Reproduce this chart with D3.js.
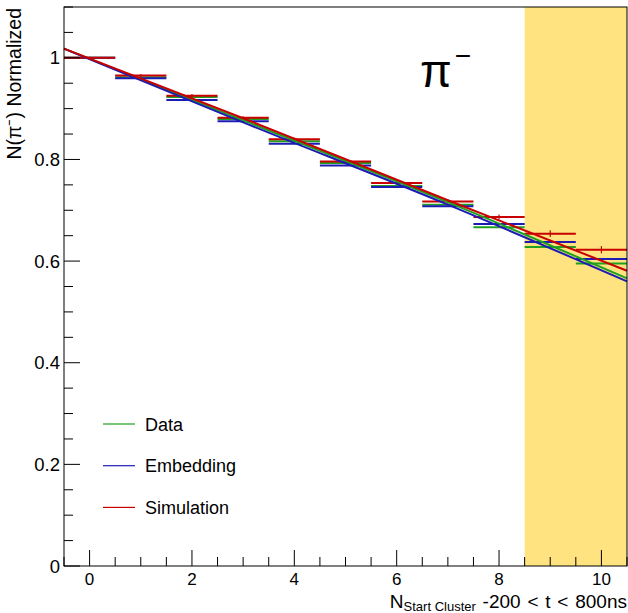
<!DOCTYPE html>
<html lang="en">
<head>
    <meta charset="UTF-8">
    <title>N Start Cluster</title>
    <script src="https://cdn.jsdelivr.net/npm/d3@7"></script>
    <style>
        body { margin: 0; background: #fff; }
        text { font-family: "Liberation Sans", Arial, sans-serif; }
    </style>
</head>
<body>
<script>
    // bins 0..10, each drawn from k-0.5 to k+0.5
    const bins = [0, 1, 2, 3, 4, 5, 6, 7, 8, 9, 10];
    const dataVals = [1.0, 0.962, 0.923, 0.8795, 0.836, 0.793, 0.748, 0.711, 0.6665, 0.6276, 0.5955];
    const embVals  = [1.0, 0.960, 0.917, 0.875, 0.831, 0.788, 0.746, 0.708, 0.673, 0.6375, 0.604];
    const simVals  = [1.0, 0.965, 0.9256, 0.882, 0.840, 0.796, 0.7535, 0.7175, 0.6866, 0.654, 0.6224];
    const simErr   = [0.002, 0.003, 0.003, 0.003, 0.003, 0.004, 0.004, 0.004, 0.005, 0.0065, 0.007];
    // fit lines
    const fitX     = [-0.5, 3, 7, 10.5];
    const dataFit  = [1.018, 0.877, 0.716, 0.566];
    const embFit   = [1.018, 0.873, 0.711, 0.560];
    const simFit   = [1.018, 0.881, 0.7197, 0.581];
    const xTicks = [0, 2, 4, 6, 8, 10];
    const yTicks = [0, 0.2, 0.4, 0.6, 0.8, 1];
    const bandStart = 8.5;

    const width = 628, height = 613;
    const fL = 64, fR = 627, fT = 7, fB = 566;

    const x = d3.scaleLinear().domain([-0.5, 10.5]).range([fL, fR]);
    const y = d3.scaleLinear().domain([0, 1.1]).range([fB, fT]);

    const svg = d3.select("body").append("svg").attr("width", width).attr("height", height);

    // highlighted region
    svg.append("rect")
        .attr("x", x(bandStart)).attr("y", fT)
        .attr("width", x(10.5) - x(bandStart)).attr("height", fB - fT)
        .attr("fill", "#fee380");

    const series = [
        {name: "Data", vals: dataVals, fit: dataFit, color: "#20a020", err: null},
        {name: "Embedding", vals: embVals, fit: embFit, color: "#1c1cb4", err: null},
        {name: "Simulation", vals: simVals, fit: simFit, color: "#c80000", err: simErr}
    ];

    const line = d3.line().x(d => x(d[0])).y(d => y(d[1])).curve(d3.curveMonotoneX);

    series.forEach(s => {
        const g = svg.append("g");
        g.selectAll("line.bin").data(bins).enter().append("line")
            .attr("x1", d => x(d - 0.5)).attr("x2", d => x(d + 0.5))
            .attr("y1", (d, i) => y(s.vals[i])).attr("y2", (d, i) => y(s.vals[i]))
            .attr("stroke", s.color).attr("stroke-width", 2);
        if (s.err) {
            g.selectAll("line.err").data(bins).enter().append("line")
                .attr("x1", d => x(d)).attr("x2", d => x(d))
                .attr("y1", (d, i) => y(s.vals[i] - s.err[i])).attr("y2", (d, i) => y(s.vals[i] + s.err[i]))
                .attr("stroke", s.color).attr("stroke-width", 1.2);
        }
    });
    series.forEach(s => {
        svg.append("path")
            .attr("d", line(fitX.map((v, i) => [v, s.fit[i]])))
            .attr("fill", "none").attr("stroke", s.color).attr("stroke-width", 2);
    });

    // frame
    svg.append("rect").attr("x", fL).attr("y", fT)
        .attr("width", fR - fL).attr("height", fB - fT)
        .attr("fill", "none").attr("stroke", "#000").attr("stroke-width", 1);

    // axes
    const xMinor = d3.range(-0.5, 10.51, 0.5);
    svg.append("g").selectAll("line").data(xMinor).enter().append("line")
        .attr("x1", d => x(d)).attr("x2", d => x(d))
        .attr("y1", fB).attr("y2", d => fB - (Math.abs(d % 2) < 1e-9 ? 16 : 9))
        .attr("stroke", "#000");
    svg.append("g").selectAll("text").data(xTicks).enter().append("text")
        .attr("x", d => x(d)).attr("y", 584.5)
        .attr("text-anchor", "middle").attr("font-size", 17).text(d => d);

    const yMinor = d3.range(0, 1.101, 0.05);
    svg.append("g").selectAll("line").data(yMinor).enter().append("line")
        .attr("x1", fL).attr("x2", d => fL + (Math.abs(Math.round(d * 100) % 20) === 0 ? 16 : 9))
        .attr("y1", d => y(d)).attr("y2", d => y(d))
        .attr("stroke", "#000");
    svg.append("g").selectAll("text").data(yTicks).enter().append("text")
        .attr("x", 60).attr("y", d => y(d) + 6.5)
        .attr("text-anchor", "end").attr("font-size", 18.5).text(d => d);

    // axis titles
    const xt = svg.append("text").attr("x", 627).attr("y", 607.5)
        .attr("text-anchor", "end").attr("font-size", 19);
    xt.append("tspan").text("N");
    xt.append("tspan").attr("dy", 3).attr("font-size", 13).text("Start Cluster");
    xt.append("tspan").attr("dy", -3).attr("word-spacing", 1.5).text(" -200 < t < 800ns");

    svg.append("text")
        .attr("transform", "translate(21,8) rotate(-90)")
        .attr("text-anchor", "end").attr("font-size", 19.5)
        .text("N(\u03C0\u207B) Normalized");

    // particle label
    const pl = svg.append("text").attr("x", 420).attr("y", 87)
        .attr("font-family", "Open Sans").attr("font-size", 46);
    pl.append("tspan").text("\u03C0");
    pl.append("tspan").attr("dx", 3).attr("dy", -22).attr("font-size", 28).text("\u2212");

    // legend
    const leg = svg.append("g").selectAll("g").data(series).enter().append("g")
        .attr("transform", (d, i) => `translate(103, ${424 + i * 41.7})`);
    leg.append("line").attr("x1", 0).attr("x2", 32).attr("y1", 0).attr("y2", 0)
        .attr("stroke", d => d.color).attr("stroke-width", 1.2);
    leg.append("text").attr("x", 42).attr("y", 6.5).attr("font-size", 18).text(d => d.name);
</script>
</body>
</html>
